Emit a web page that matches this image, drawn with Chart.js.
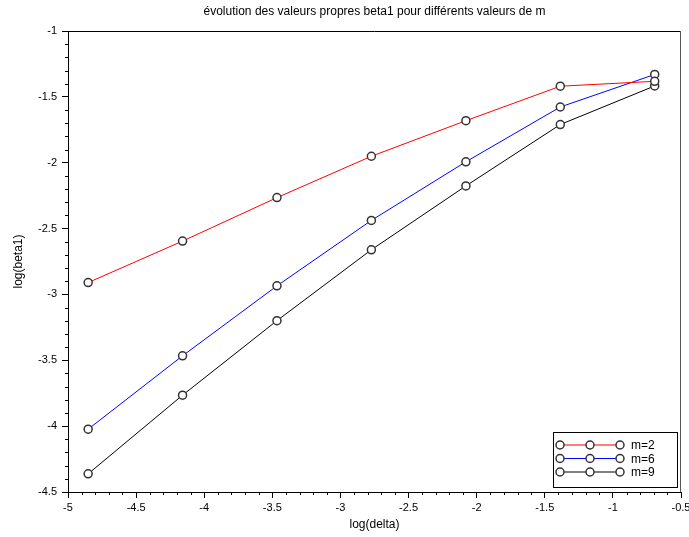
<!DOCTYPE html>
<html>
<head>
<meta charset="utf-8">
<script src="https://cdn.jsdelivr.net/npm/chart.js@4.4.1/dist/chart.umd.min.js"></script>
<style>
    html, body { margin: 0; padding: 0; background: #fff; }
</style>
</head>
<body>
<canvas id="chart" width="689" height="537"></canvas>
<script>
// Data
const logDelta = [-4.852, -4.159, -3.466, -2.773, -2.079, -1.386, -0.693];
const betaM2 = [-2.910, -2.595, -2.265, -1.951, -1.681, -1.419, -1.382];
const betaM6 = [-4.023, -3.466, -2.935, -2.438, -1.993, -1.577, -1.330];
const betaM9 = [-4.362, -3.765, -3.199, -2.661, -2.176, -1.710, -1.417];
const seriesLabels = ['m=2', 'm=6', 'm=9'];
const seriesColors = ['#ff0000', '#0000ff', '#000000'];
const xTicks = [-5, -4.5, -4, -3.5, -3, -2.5, -2, -1.5, -1, -0.5];
const yTicks = [-4.5, -4, -3.5, -3, -2.5, -2, -1.5, -1];

const FONT = "'Liberation Sans', Arial, sans-serif";

function toPoints(ys) {
    return logDelta.map((x, i) => ({ x: x, y: ys[i] }));
}

const datasets = [betaM2, betaM6, betaM9].map((ys, i) => ({
    label: seriesLabels[i],
    data: toPoints(ys),
    borderColor: seriesColors[i],
    borderWidth: 1,
    pointRadius: 4,
    pointBorderWidth: 1.5,
    pointBorderColor: '#333',
    pointBackgroundColor: '#fff',
    showLine: true,
    tension: 0
}));

// minor ticks every 0.1 + top/right frame
const axisDecor = {
    id: 'axisDecor',
    afterDraw(chart) {
        const ctx = chart.ctx;
        const a = chart.chartArea;
        const sx = chart.scales.x, sy = chart.scales.y;
        ctx.save();
        ctx.strokeStyle = '#000';
        ctx.lineWidth = 1;
        ctx.beginPath();
        for (let i = 0; i <= 45; i++) {
            if (i % 5 === 0) continue;
            const px = Math.round(sx.getPixelForValue(-5 + i / 10)) + 0.5;
            ctx.moveTo(px, a.bottom);
            ctx.lineTo(px, a.bottom + 3);
        }
        for (let i = 0; i <= 35; i++) {
            if (i % 5 === 0) continue;
            const py = Math.round(sy.getPixelForValue(-4.5 + i / 10)) + 0.5;
            ctx.moveTo(a.left, py);
            ctx.lineTo(a.left - 3, py);
        }
        ctx.stroke();
        ctx.beginPath();
        ctx.moveTo(a.left, a.top + 0.5);
        ctx.lineTo(a.right, a.top + 0.5);
        ctx.stroke();
        ctx.strokeStyle = '#555';
        ctx.beginPath();
        ctx.moveTo(a.right - 0.5, a.top);
        ctx.lineTo(a.right - 0.5, a.bottom);
        ctx.stroke();
        ctx.restore();
    }
};

// legend box with three markers per line
const boxLegend = {
    id: 'boxLegend',
    afterDraw(chart) {
        const ctx = chart.ctx;
        const a = chart.chartArea;
        const w = 124, h = 55;
        const x0 = a.right - 4 - w, y0 = a.bottom - 5 - h;
        ctx.save();
        ctx.fillStyle = '#fff';
        ctx.fillRect(x0, y0, w, h);
        ctx.strokeStyle = '#000';
        ctx.lineWidth = 1;
        ctx.strokeRect(x0 + 0.5, y0 + 0.5, w, h);
        ctx.font = '12px ' + FONT;
        ctx.textBaseline = 'middle';
        chart.data.datasets.forEach((ds, i) => {
            const y = y0 + 13 + i * 13.5;
            const xs = [x0 + 7, x0 + 37, x0 + 67];
            ctx.strokeStyle = ds.borderColor;
            ctx.lineWidth = 1.2;
            ctx.beginPath();
            ctx.moveTo(xs[0], y);
            ctx.lineTo(xs[2], y);
            ctx.stroke();
            xs.forEach(cx => {
                ctx.beginPath();
                ctx.arc(cx, y, 4, 0, Math.PI * 2);
                ctx.fillStyle = '#fff';
                ctx.fill();
                ctx.strokeStyle = '#333';
                ctx.lineWidth = 1.5;
                ctx.stroke();
            });
            ctx.fillStyle = '#000';
            ctx.fillText(ds.label, x0 + 78, y + 1);
        });
        ctx.restore();
    }
};

function fmt(v) {
    return String(Math.round(v * 10) / 10);
}

new Chart(document.getElementById('chart').getContext('2d'), {
    type: 'scatter',
    data: { datasets: datasets },
    options: {
        responsive: false,
        animation: false,
        layout: { padding: { top: 0, right: 8, bottom: 0, left: 0 } },
        plugins: {
            legend: { display: false },
            tooltip: { enabled: false },
            title: {
                display: true,
                fullSize: false,
                text: 'évolution des valeurs propres beta1 pour différents valeurs de m',
                color: '#000',
                font: { family: FONT, size: 12, weight: 'normal', lineHeight: 1.2 },
                padding: { top: 4, bottom: 12.6 }
            }
        },
        scales: {
            x: {
                type: 'linear',
                min: -5, max: -0.5,
                afterBuildTicks: s => { s.ticks = xTicks.map(v => ({ value: v })); },
                afterFit: s => { s.height = 45; s.paddingLeft = 0; s.paddingRight = 0; },
                border: { display: true, color: '#000', width: 1 },
                grid: { drawOnChartArea: false, drawTicks: true, tickLength: 6, color: '#000' },
                ticks: {
                    color: '#000', padding: 3, maxRotation: 0, autoSkip: false,
                    font: { family: FONT, size: 11 },
                    callback: fmt
                },
                title: {
                    display: true, text: 'log(delta)', color: '#000',
                    font: { family: FONT, size: 12, lineHeight: 1.2 },
                    padding: { top: 0, bottom: 5 }
                }
            },
            y: {
                type: 'linear',
                min: -4.5, max: -1,
                afterBuildTicks: s => { s.ticks = yTicks.map(v => ({ value: v })); },
                afterFit: s => { s.width = 68; s.paddingTop = 0; s.paddingBottom = 0; },
                border: { display: true, color: '#000', width: 1 },
                grid: { drawOnChartArea: false, drawTicks: true, tickLength: 6, color: '#000' },
                ticks: {
                    color: '#000', padding: 5, autoSkip: false,
                    font: { family: FONT, size: 11 },
                    callback: fmt
                },
                title: {
                    display: true, text: 'log(beta1)', color: '#000',
                    font: { family: FONT, size: 12, lineHeight: 1.2 },
                    padding: { top: 11, bottom: 0 }
                }
            }
        }
    },
    plugins: [axisDecor, boxLegend]
});
</script>
</body>
</html>
